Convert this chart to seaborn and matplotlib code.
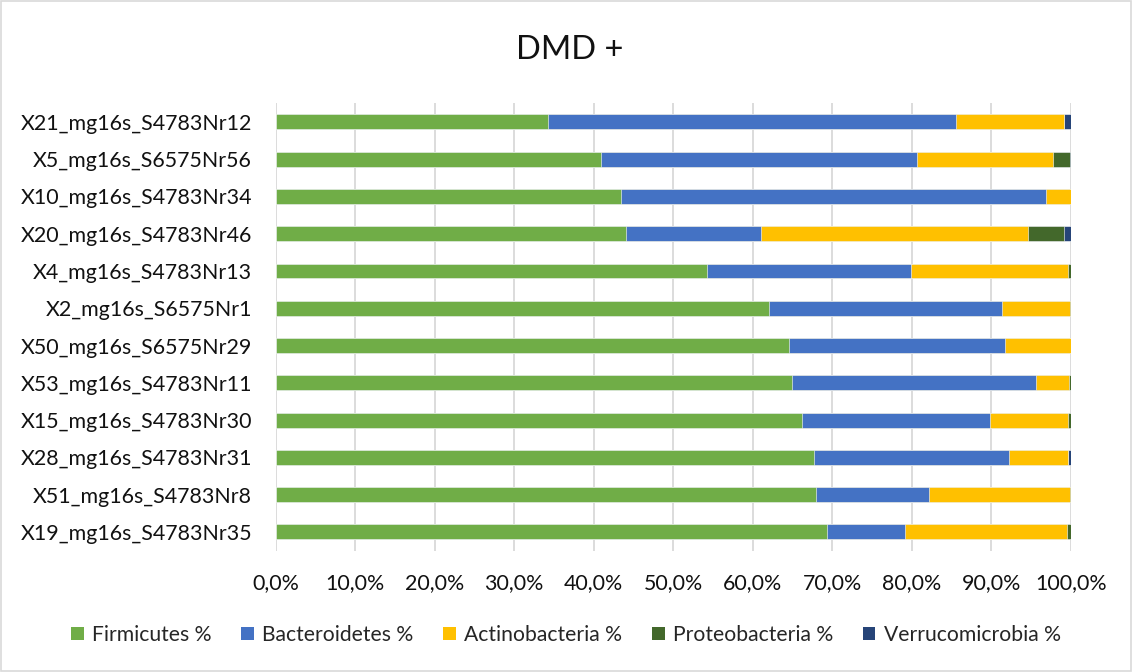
import matplotlib
matplotlib.use("Agg")
import matplotlib.pyplot as plt
from matplotlib.patches import Patch, Rectangle
from matplotlib.ticker import FuncFormatter
import numpy as np
import pandas as pd
import seaborn as sns

samples = [
    "X21_mg16s_S4783Nr12", "X5_mg16s_S6575Nr56", "X10_mg16s_S4783Nr34",
    "X20_mg16s_S4783Nr46", "X4_mg16s_S4783Nr13", "X2_mg16s_S6575Nr1",
    "X50_mg16s_S6575Nr29", "X53_mg16s_S4783Nr11", "X15_mg16s_S4783Nr30",
    "X28_mg16s_S4783Nr31", "X51_mg16s_S4783Nr8", "X19_mg16s_S4783Nr35",
]
firmicutes = [34.3, 40.9, 43.4, 44.0, 54.2, 62.0, 64.5, 64.9, 66.2, 67.7, 67.9, 69.3]
bacteroidetes = [51.2, 39.8, 53.5, 17.0, 25.7, 29.3, 27.2, 30.7, 23.6, 24.5, 14.3, 9.8]
actinobacteria = [13.6, 17.0, 3.1, 33.6, 19.8, 8.6, 8.3, 4.2, 9.9, 7.4, 17.7, 20.4]
proteobacteria = [0.0, 2.2, 0.0, 4.5, 0.3, 0.1, 0.0, 0.2, 0.3, 0.0, 0.1, 0.5]
verrucomicrobia = [0.9, 0.1, 0.0, 0.9, 0.0, 0.0, 0.0, 0.0, 0.0, 0.4, 0.0, 0.0]

series_names = ["Firmicutes %", "Bacteroidetes %", "Actinobacteria %",
                "Proteobacteria %", "Verrucomicrobia %"]
colors = ["#70AD47", "#4472C4", "#FFC000", "#43682B", "#264478"]
title = "DMD +"
x_ticks = list(range(0, 101, 10))

df = pd.DataFrame({
    "sample": samples,
    series_names[0]: firmicutes,
    series_names[1]: bacteroidetes,
    series_names[2]: actinobacteria,
    series_names[3]: proteobacteria,
    series_names[4]: verrucomicrobia,
})
cum = df[series_names].cumsum(axis=1)
cum.insert(0, "sample", df["sample"])

sns.set_theme(style="white")
plt.rcParams["font.family"] = ["Lato", "DejaVu Sans"]

fig = plt.figure(figsize=(11.32, 6.72), dpi=100)
fig.patch.set_facecolor("white")
fig.patches.append(Rectangle((0.001, 0.001), 0.998, 0.997, transform=fig.transFigure,
                             fill=False, edgecolor="#D9D9D9", linewidth=1.2))
ax = fig.add_axes([0.2435, 0.1807, 0.7025, 0.6656])

# stacked bars: draw cumulative totals from the outermost segment inward
for name, color in reversed(list(zip(series_names, colors))):
    sns.barplot(data=cum, x=name, y="sample", order=samples, orient="h",
                color=color, saturation=1, width=0.4, ax=ax,
                edgecolor="white", linewidth=0.4, zorder=3)

ax.set_xlim(0, 100)
ax.set_xticks(x_ticks)
ax.xaxis.set_major_formatter(FuncFormatter(lambda v, p: f"{v:.1f}%".replace(".", ",")))
ax.grid(axis="x", color="#D9D9D9", linewidth=1.3, zorder=0)
ax.set_axisbelow(True)
for s in ax.spines.values():
    s.set_visible(False)
ax.tick_params(axis="both", length=0, labelsize=15.4, colors="#111111")
ax.tick_params(axis="x", pad=16)
ax.tick_params(axis="y", pad=17)
ax.set_xlabel("")
ax.set_ylabel("")

fig.text(0.503, 0.926, title, ha="center", va="center", fontsize=23.5, color="#111111")

handles = [Patch(facecolor=c, edgecolor="none") for c in colors]
fig.legend(handles, series_names, loc="center", bbox_to_anchor=(0.5, 0.055), ncol=5,
           frameon=False, fontsize=15.2, handlelength=0.6, handleheight=0.6,
           handletextpad=0.4, columnspacing=1.4)

fig.savefig("out.png", dpi=100, facecolor="white")
